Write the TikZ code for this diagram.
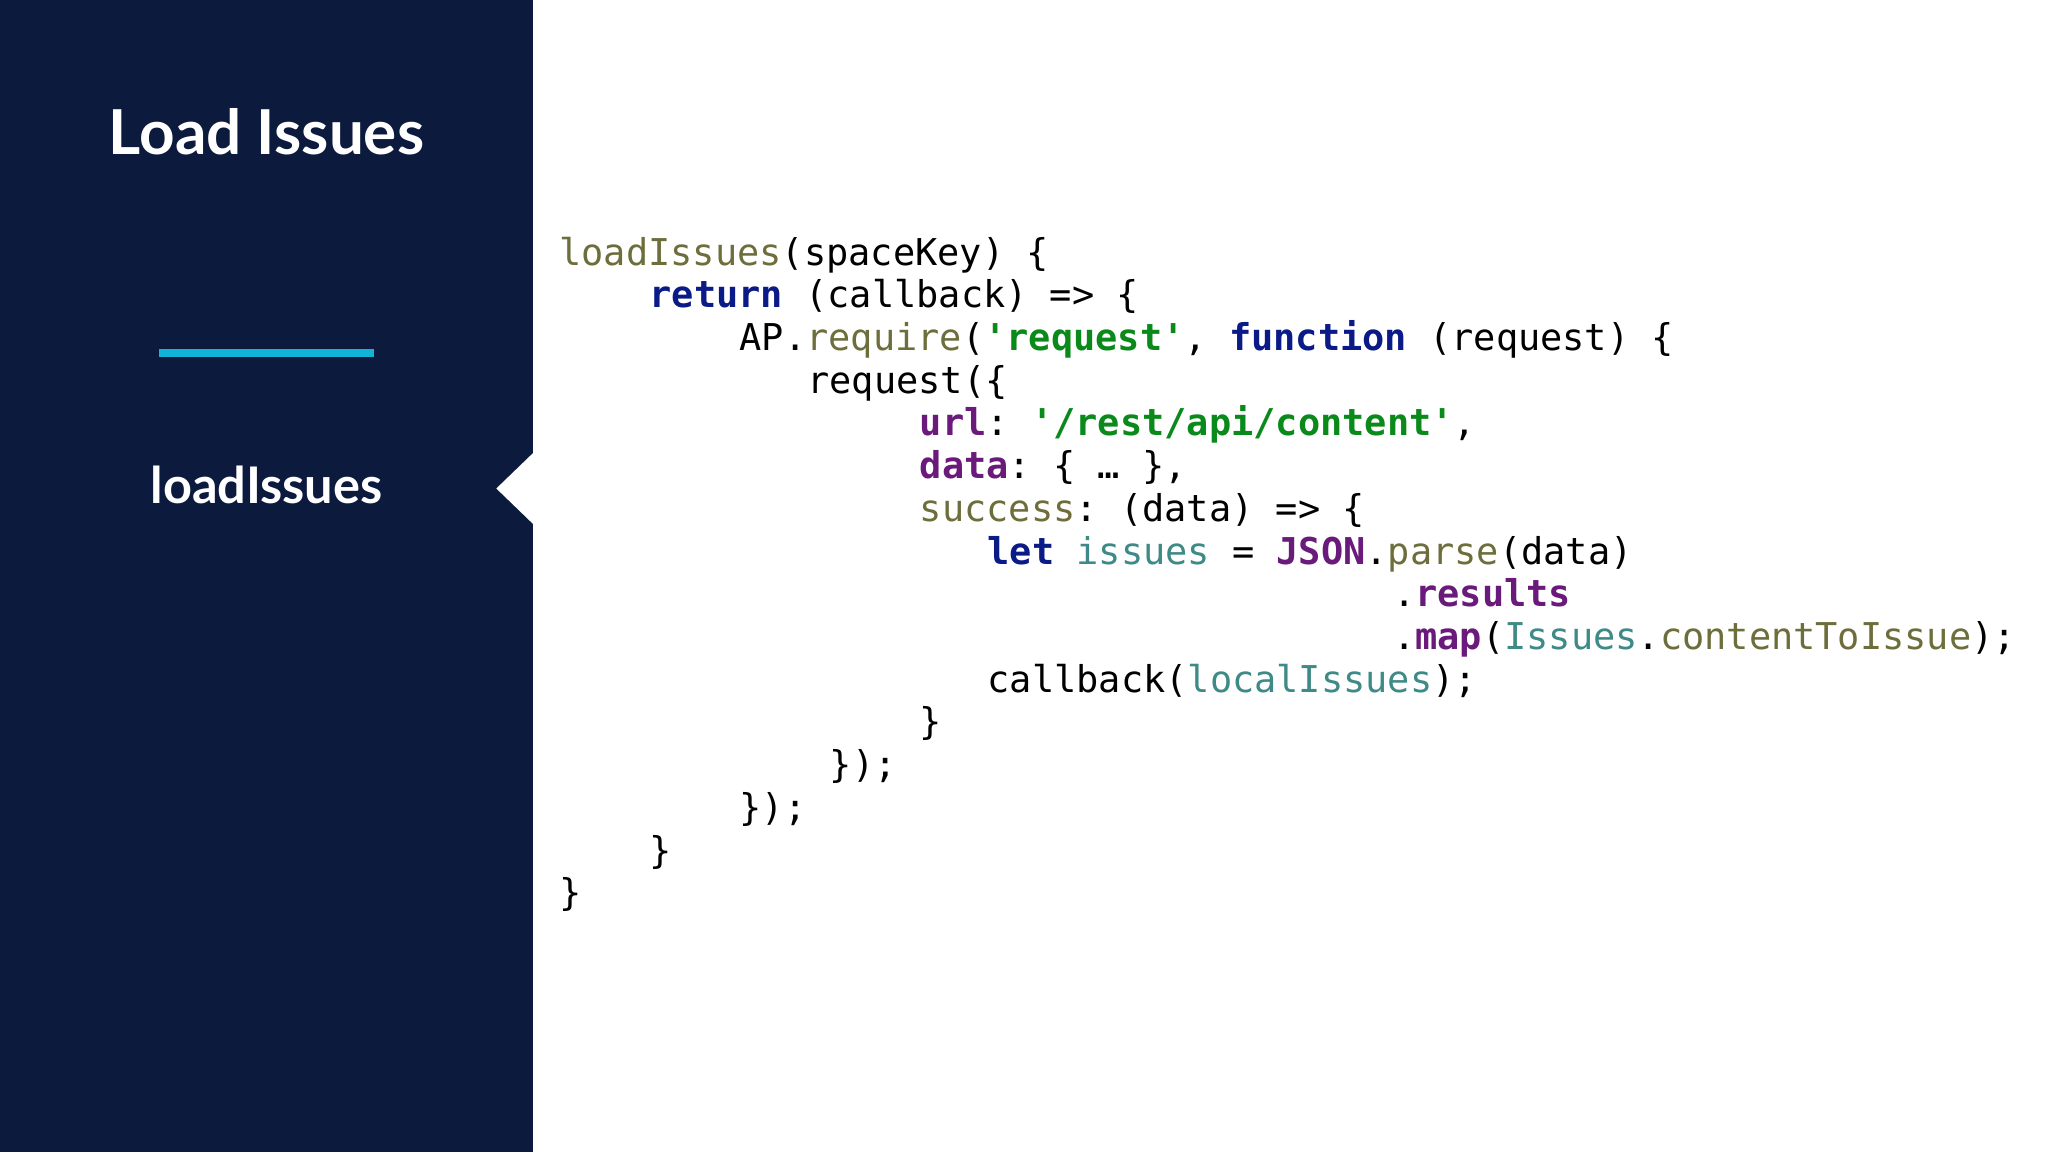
\documentclass[tikz,border=0pt]{standalone}
\usepackage{fontspec}
\setmainfont{Lato}
\setmonofont{DejaVu Sans Mono}
\definecolor{navy}{HTML}{0C1A3D}
\definecolor{cyanl}{HTML}{12B3D6}
\definecolor{olv}{HTML}{6E6E3C}
\definecolor{kw}{HTML}{0A1A86}
\definecolor{str}{HTML}{0A8A1A}
\definecolor{prp}{HTML}{6A1A7A}
\definecolor{tl}{HTML}{3E8A86}
\newcommand{\fn}[1]{\textcolor{olv}{#1}}
\newcommand{\kwd}[1]{\textcolor{kw}{\bfseries #1}}
\newcommand{\st}[1]{\textcolor{str}{\bfseries #1}}
\newcommand{\pr}[1]{\textcolor{prp}{\bfseries #1}}
\newcommand{\tv}[1]{\textcolor{tl}{#1}}
\begin{document}
\begin{tikzpicture}[x=0.02cm,y=-0.02cm,
  code/.style={anchor=base west,inner sep=0pt,font=\ttfamily\fontsize{16.1}{18}\selectfont,text=black}]
\useasboundingbox (0,0) rectangle (1568,882);
\fill[white] (0,0) rectangle (1568,882);
\fill[navy] (0,0) rectangle (408,882);
\fill[white] (409,346) -- (380,374) -- (409,402) -- cycle;
\node[text=white,font=\bfseries\fontsize{27}{30}\selectfont] (title) at (204,101) {Load Issues};
\draw[cyanl,line width=0.12cm] (122,270) -- (286,270);
\node[text=white,font=\bfseries\fontsize{22}{26}\selectfont] (sub) at (204,371) {loadIssues};
\def\cw{17.25}
\def\ln#1#2#3{\node[code] at (428+#1*\cw,{203+#2*32.7}) {#3};}
\ln{0}{0}{\fn{loadIssues}(spaceKey) \{}
\ln{4}{1}{\kwd{return} (callback) => \{}
\ln{8}{2}{AP.\fn{require}(\st{'request'}, \kwd{function} (request) \{}
\ln{11}{3}{request(\{}
\ln{16}{4}{\pr{url}: \st{'/rest/api/content'},}
\ln{16}{5}{\pr{data}: \{ … \},}
\ln{16}{6}{\fn{success}: (data) => \{}
\ln{19}{7}{\kwd{let} \tv{issues} = \pr{JSON}.\fn{parse}(data)}
\ln{37}{8}{.\pr{results}}
\ln{37}{9}{.\pr{map}(\tv{Issues}.\fn{contentToIssue});}
\ln{19}{10}{callback(\tv{localIssues});}
\ln{16}{11}{\}}
\ln{12}{12}{\});}
\ln{8}{13}{\});}
\ln{4}{14}{\}}
\ln{0}{15}{\}}
\end{tikzpicture}
\end{document}
